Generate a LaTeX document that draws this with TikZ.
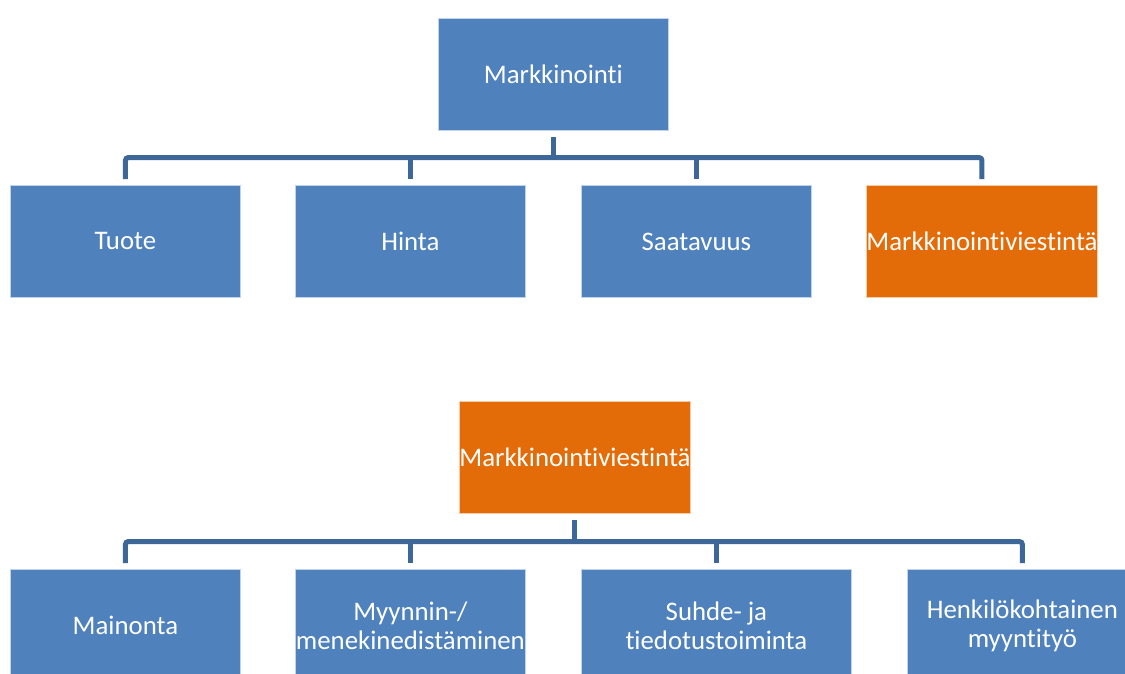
\documentclass[tikz,border=0pt]{standalone}
\usepackage{fontspec}
\setmainfont{Carlito}[Ligatures=NoCommon]
\definecolor{boxblue}{HTML}{4F81BD}
\definecolor{boxorange}{HTML}{E36C09}
\definecolor{linkblue}{HTML}{3D6699}
\begin{document}
\begin{tikzpicture}[x=1pt,y=-1pt,
  box/.style={fill=boxblue, draw=white!65!boxblue, line width=0.8pt,
    minimum width=230pt, minimum height=112pt, inner sep=0pt,
    text=white, font=\fontsize{26.8}{29}\selectfont, align=center,
    anchor=north west},
  hot/.style={box, fill=boxorange, draw=white!65!boxorange},
  link/.style={draw=linkblue, line width=5pt, rounded corners=3pt}]
\useasboundingbox (0,0) rectangle (1125,673);
\clip (0,0) rectangle (1125,673);

% upper chart
\node[box] (mk) at (438,18) {Markkinointi};
\node[box] (tuote) at (10,185) {Tuote};
\node[box] (hinta) at (295,185) {Hinta};
\node[box] (saat) at (581,185) {Saatavuus};
\node[hot] (mv1) at (866,185) {Markkinointiviestintä};
\coordinate (bus1) at (552,157.5);

\draw[link] ([yshift=-6pt]mk.south) -- (mk.south |- bus1);
\draw[link] ([yshift=6pt]tuote.north) -- (tuote.north |- bus1)
  -- (mv1.north |- bus1) -- ([yshift=6pt]mv1.north);
\draw[link] (hinta.north |- bus1) -- ([yshift=6pt]hinta.north);
\draw[link] (saat.north |- bus1) -- ([yshift=6pt]saat.north);

% lower chart
\node[hot] (mv2) at (459,401) {Markkinointiviestintä};
\node[box] (main) at (10,569) {Mainonta};
\node[box] (myyn) at (295,569) {Myynnin-/\\menekinedistäminen};
\node[box, minimum width=270pt] (suhde) at (581,569) {Suhde- ja\\tiedotustoiminta};
\node[box] (henk) at (907,569) {Henkilökohtainen\\myyntityö};
\coordinate (bus2) at (574,541.5);

\draw[link] ([yshift=-6pt]mv2.south) -- (mv2.south |- bus2);
\draw[link] ([yshift=6pt]main.north) -- (main.north |- bus2)
  -- (henk.north |- bus2) -- ([yshift=6pt]henk.north);
\draw[link] (myyn.north |- bus2) -- ([yshift=6pt]myyn.north);
\draw[link] (suhde.north |- bus2) -- ([yshift=6pt]suhde.north);
\end{tikzpicture}
\end{document}
